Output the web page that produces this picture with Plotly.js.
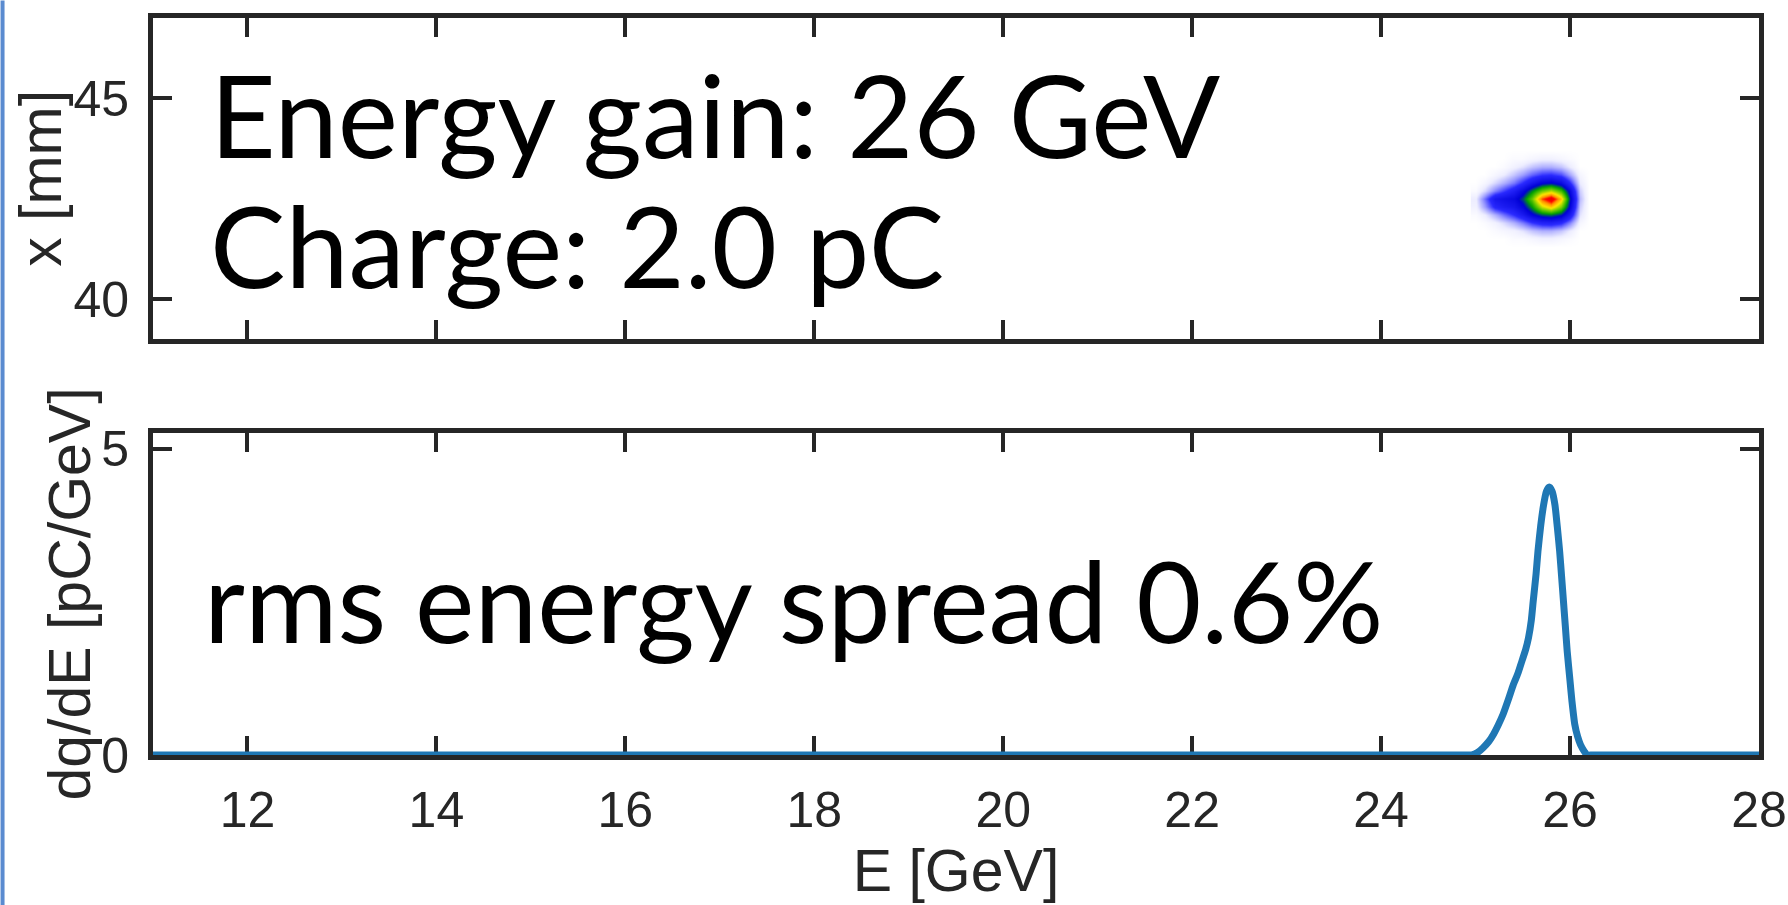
<!DOCTYPE html>
<html>
<head>
<meta charset="utf-8">
<script src="https://cdn.plot.ly/plotly-3.0.1.min.js"></script>
<style>
  html, body { margin: 0; padding: 0; background: #fff; }
  #chart { width: 1788px; height: 905px; }
</style>
</head>
<body>
<div id="chart"></div>
<script>
// Beam spot on the screen: energy grid [GeV], transverse grid [mm], intensity (normalised)
const spotE = [25.0, 25.1, 25.2, 25.3, 25.4, 25.5, 25.6, 25.7, 25.8, 25.9, 26.0, 26.1, 26.2];
const spotX = [41.3, 41.5, 41.7, 41.9, 42.1, 42.3, 42.5, 42.7, 42.9, 43.1, 43.3, 43.5, 43.7];
const spotZ = [
  [0.00, 0.00, 0.00, 0.00, 0.00, 0.00, 0.00, 0.00, 0.00, 0.00, 0.00, 0.00, 0.00],
  [0.00, 0.00, 0.00, 0.00, 0.01, 0.01, 0.02, 0.03, 0.03, 0.02, 0.01, 0.00, 0.00],
  [0.00, 0.00, 0.01, 0.02, 0.03, 0.05, 0.08, 0.10, 0.10, 0.08, 0.04, 0.00, 0.00],
  [0.00, 0.01, 0.03, 0.06, 0.10, 0.15, 0.21, 0.25, 0.26, 0.23, 0.14, 0.02, 0.00],
  [0.01, 0.04, 0.10, 0.16, 0.22, 0.29, 0.38, 0.45, 0.47, 0.42, 0.28, 0.05, 0.00],
  [0.03, 0.12, 0.24, 0.28, 0.31, 0.38, 0.50, 0.68, 0.76, 0.62, 0.38, 0.07, 0.00],
  [0.04, 0.16, 0.30, 0.33, 0.36, 0.45, 0.60, 0.86, 0.97, 0.76, 0.42, 0.09, 0.00],
  [0.01, 0.06, 0.14, 0.20, 0.27, 0.36, 0.48, 0.60, 0.66, 0.56, 0.36, 0.07, 0.00],
  [0.00, 0.02, 0.06, 0.10, 0.15, 0.22, 0.30, 0.38, 0.40, 0.35, 0.22, 0.04, 0.00],
  [0.00, 0.00, 0.02, 0.04, 0.08, 0.12, 0.17, 0.21, 0.22, 0.19, 0.11, 0.02, 0.00],
  [0.00, 0.00, 0.00, 0.01, 0.03, 0.05, 0.08, 0.10, 0.10, 0.08, 0.04, 0.00, 0.00],
  [0.00, 0.00, 0.00, 0.00, 0.01, 0.01, 0.02, 0.03, 0.03, 0.02, 0.01, 0.00, 0.00],
  [0.00, 0.00, 0.00, 0.00, 0.00, 0.00, 0.00, 0.00, 0.00, 0.00, 0.00, 0.00, 0.00]
];

// Energy spectrum dq/dE [pC/GeV] versus E [GeV]
const specE = [11.0, 24.90, 24.96, 25.02, 25.08, 25.14, 25.19, 25.24, 25.29, 25.35, 25.40, 25.45,
               25.49, 25.53, 25.56, 25.59, 25.61, 25.64, 25.66, 25.69, 25.72, 25.75,
               25.78, 25.81, 25.84, 25.865, 25.89, 25.91, 25.93, 25.95, 25.97, 26.00,
               26.02, 26.05, 26.08, 26.11, 26.15, 26.18, 26.24, 28.0];
const specQ = [0.00, 0.00, 0.00, 0.04, 0.12, 0.22, 0.34, 0.49, 0.66, 0.92, 1.15, 1.34,
               1.53, 1.72, 1.91, 2.20, 2.51, 2.95, 3.32, 3.75, 4.08, 4.30,
               4.37, 4.30, 4.08, 3.72, 3.32, 2.92, 2.51, 2.10, 1.69, 1.20,
               0.88, 0.50, 0.30, 0.17, 0.06, 0.00, 0.00, 0.00];

// Axis ranges and tick values
const eRange = [11, 28];
const eTicks = [12, 14, 16, 18, 20, 22, 24, 26, 28];
const xRange = [39, 47];
const xTicks = [40, 45];
const qRange = [0, 5.25];
const qTicks = [0, 5];

// Text drawn on the panels
const gainText = 'Energy gain: 26 GeV';
const chargeText = 'Charge: 2.0 pC';
const spreadText = 'rms energy spread 0.6%';
const topYTitle = 'x [mm]';
const lowYTitle = 'dq/dE [pC/GeV]';
const xTitle = 'E [GeV]';

// Page geometry (pixels)
const W = 1788, H = 905;
const plotL = 152.5, plotR = 1759, plotT = 17.6, plotB = 755;
const topBottomPx = 339.2, lowTopPx = 433;
const plotW = plotR - plotL, plotH = plotB - plotT;
const px = v => (v - plotL) / plotW;
const py = v => (plotB - v) / plotH;

const ink = '#262626';
const sans = 'Liberation Sans, Arial, sans-serif';
const tickFont = { family: sans, size: 50, color: ink };
const titleFont = { family: sans, size: 59, color: ink };
const bigFont = size => ({ family: 'Lato, sans-serif', size: size, color: '#000000' });

const axisCommon = {
  showline: true, linecolor: ink, linewidth: 5,
  mirror: 'ticks', ticks: 'inside', ticklen: 19, tickwidth: 4, tickcolor: ink,
  showgrid: false, zeroline: false, fixedrange: true,
  tickfont: tickFont
};

const spotColors = [
  [0.00, '#ffffff'], [0.04, '#ededff'], [0.12, '#9c9cff'], [0.22, '#2a2aff'],
  [0.40, '#0000d6'], [0.50, '#00a000'], [0.62, '#80d000'], [0.72, '#ffe600'],
  [0.82, '#ff9000'], [0.90, '#ff0000'], [1.00, '#e00000']
];

const traces = [
  {
    type: 'heatmap', x: spotE, y: spotX, z: spotZ,
    zmin: 0, zmax: 1, zsmooth: 'best', colorscale: spotColors,
    showscale: false, xaxis: 'x', yaxis: 'y', hoverinfo: 'skip'
  },
  {
    type: 'scatter', mode: 'lines', x: specE, y: specQ,
    line: { color: '#1f77b4', width: 7, shape: 'spline', smoothing: 0.6 },
    cliponaxis: false, xaxis: 'x2', yaxis: 'y2', hoverinfo: 'skip'
  }
];

const layout = {
  width: W, height: H,
  margin: { l: plotL, r: W - plotR, t: plotT, b: H - plotB, pad: 0 },
  paper_bgcolor: '#ffffff', plot_bgcolor: '#ffffff',
  showlegend: false,
  xaxis: Object.assign({}, axisCommon, {
    domain: [0, 1], anchor: 'y', range: eRange,
    tickmode: 'array', tickvals: eTicks, showticklabels: false
  }),
  yaxis: Object.assign({}, axisCommon, {
    domain: [py(topBottomPx), 1], anchor: 'x', range: xRange,
    tickmode: 'array', tickvals: xTicks, ticklabelstandoff: 9
  }),
  xaxis2: Object.assign({}, axisCommon, {
    domain: [0, 1], anchor: 'y2', range: eRange, layer: 'below traces',
    tickmode: 'array', tickvals: eTicks, ticklabelstandoff: 7,
    title: { text: xTitle, font: titleFont, standoff: 14 }
  }),
  yaxis2: Object.assign({}, axisCommon, {
    domain: [0, py(lowTopPx)], anchor: 'x2', range: qRange,
    tickmode: 'array', tickvals: qTicks, ticklabelstandoff: 9
  }),
  annotations: [
    { text: gainText, xref: 'paper', yref: 'paper', x: px(208), y: py(113),
      xanchor: 'left', yanchor: 'middle', showarrow: false, font: bigFont(114) },
    { text: chargeText, xref: 'paper', yref: 'paper', x: px(208), y: py(244),
      xanchor: 'left', yanchor: 'middle', showarrow: false, font: bigFont(113) },
    { text: spreadText, xref: 'paper', yref: 'paper', x: px(202), y: py(599),
      xanchor: 'left', yanchor: 'middle', showarrow: false, font: bigFont(112.5) },
    // y-axis titles of the two panels
    { text: topYTitle, xref: 'paper', yref: 'paper', x: px(41), y: py(178),
      xanchor: 'center', yanchor: 'middle', textangle: -90, showarrow: false, font: titleFont },
    { text: lowYTitle, xref: 'paper', yref: 'paper', x: px(70), y: py(594),
      xanchor: 'center', yanchor: 'middle', textangle: -90, showarrow: false, font: titleFont }
  ],
  shapes: [
    // thin blue rule along the left edge of the page
    { type: 'rect', xref: 'paper', yref: 'paper', layer: 'above',
      x0: px(0), x1: px(4), y0: py(H), y1: py(0),
      fillcolor: '#5a8bd0', line: { width: 0 } }
  ]
};

Plotly.newPlot('chart', traces, layout, { staticPlot: true, displayModeBar: false });
</script>
</body>
</html>
